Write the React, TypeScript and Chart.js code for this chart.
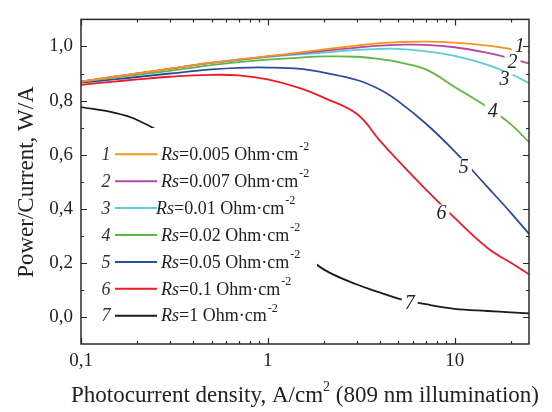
import React, { useEffect, useRef } from "react";
import { Chart, registerables } from "chart.js";

Chart.register(...registerables);

// ---- data ----
const xValues = [0.1, 0.15, 0.2, 0.3, 0.5, 0.7, 1, 1.5, 2, 3, 4, 5, 7, 10, 15, 20, 25];
const rs0005 = [0.870, 0.888, 0.900, 0.918, 0.940, 0.952, 0.964, 0.978, 0.989, 1.003, 1.012, 1.016, 1.018, 1.014, 1.003, 0.990, 0.978];
const rs0007 = [0.870, 0.888, 0.900, 0.918, 0.940, 0.951, 0.963, 0.975, 0.984, 0.996, 1.003, 1.006, 1.006, 0.997, 0.976, 0.956, 0.937];
const rs001 = [0.870, 0.888, 0.900, 0.917, 0.938, 0.949, 0.961, 0.971, 0.977, 0.987, 0.991, 0.991, 0.982, 0.965, 0.932, 0.898, 0.864];
const rs002 = [0.870, 0.885, 0.895, 0.910, 0.931, 0.942, 0.951, 0.959, 0.963, 0.962, 0.953, 0.942, 0.915, 0.850, 0.775, 0.712, 0.646];
const rs005 = [0.866, 0.878, 0.887, 0.900, 0.915, 0.921, 0.922, 0.917, 0.903, 0.876, 0.840, 0.797, 0.715, 0.612, 0.480, 0.385, 0.307];
const rs01 = [0.858, 0.870, 0.878, 0.888, 0.895, 0.893, 0.878, 0.845, 0.810, 0.750, 0.650, 0.577, 0.472, 0.366, 0.255, 0.200, 0.158];
const rs1 = [0.776, 0.755, 0.728, 0.660, 0.530, 0.450, 0.360, 0.245, 0.175, 0.120, 0.090, 0.068, 0.047, 0.030, 0.022, 0.017, 0.013];

const seriesValues = [rs0005, rs0007, rs001, rs002, rs005, rs01, rs1];
const rsLabels = ["0.005", "0.007", "0.01", "0.02", "0.05", "0.1", "1"];
const curveNumbers = ["1", "2", "3", "4", "5", "6", "7"];
const colors = ["#f7941d", "#b5489f", "#5ccbdc", "#5fb646", "#2c4c9c", "#ec1c24", "#1a1a1a"];

// curve number labels (data coordinates)
const labelX = [22.3, 20.4, 18.5, 16.0, 11.2, 8.5, 5.75];
const labelY = [1.004, 0.943, 0.879, 0.761, 0.557, 0.386, 0.054];

const yMajor = [0, 0.2, 0.4, 0.6, 0.8, 1.0];
const yMinor = [0.1, 0.3, 0.5, 0.7, 0.9];
const xMajor = [0.1, 1, 10];
const xMinor = [0.2, 0.3, 0.4, 0.5, 0.6, 0.7, 0.8, 0.9, 2, 3, 4, 5, 6, 7, 8, 9, 20];

const FONT = "'Liberation Serif', 'Times New Roman', serif";
const AXIS_COLOR = "#2a2a2a";

const decor = {
  id: "decor",
  afterDatasetsDraw(chart: any) {
    const ctx: CanvasRenderingContext2D = chart.ctx;
    const { left, right, top, bottom } = chart.chartArea;
    const xs = chart.scales.x;
    const ys = chart.scales.y;
    ctx.save();

    // legend box (opaque)
    ctx.fillStyle = "#ffffff";
    ctx.fillRect(95, 128, 222, 204);
    const itemY0 = 154.3;
    const itemStep = 26.9;
    for (let i = 0; i < curveNumbers.length; i++) {
      const y = itemY0 + i * itemStep;
      ctx.fillStyle = "#333";
      ctx.font = `italic 18px ${FONT}`;
      ctx.textAlign = "center";
      ctx.textBaseline = "middle";
      ctx.fillText(curveNumbers[i], 106, y + 1);
      ctx.strokeStyle = colors[i];
      ctx.lineWidth = 2;
      ctx.beginPath();
      ctx.moveTo(115, y);
      ctx.lineTo(157, y);
      ctx.stroke();
      ctx.textAlign = "left";
      ctx.fillStyle = "#222";
      let tx = i === 2 ? 156 : 161;
      ctx.font = `italic 18px ${FONT}`;
      ctx.fillText("Rs", tx, y + 1);
      tx += ctx.measureText("Rs").width;
      ctx.font = `18px ${FONT}`;
      const body = `=${rsLabels[i]} Ohm\u00b7cm`;
      ctx.fillText(body, tx, y + 1);
      tx += ctx.measureText(body).width;
      ctx.font = `12px ${FONT}`;
      ctx.fillText("-2", tx + 1, y - 7);
    }

    // curve number labels
    ctx.font = `italic 20px ${FONT}`;
    ctx.textAlign = "center";
    ctx.textBaseline = "middle";
    for (let i = 0; i < curveNumbers.length; i++) {
      const px = xs.getPixelForValue(labelX[i]);
      const py = ys.getPixelForValue(labelY[i]);
      const w = ctx.measureText(curveNumbers[i]).width;
      ctx.fillStyle = "#ffffff";
      ctx.fillRect(px - w / 2 - 3, py - 8, w + 6, 16);
      ctx.fillStyle = "#222";
      ctx.fillText(curveNumbers[i], px, py + 1);
    }

    // frame
    ctx.strokeStyle = AXIS_COLOR;
    ctx.lineWidth = 1.5;
    ctx.strokeRect(left, top, right - left, bottom - top);

    // ticks (inward)
    ctx.lineWidth = 1.2;
    const tickY = (vals: number[], len: number) => {
      for (const v of vals) {
        const p = Math.round(ys.getPixelForValue(v)) + 0.5;
        ctx.beginPath();
        ctx.moveTo(left, p);
        ctx.lineTo(left + len, p);
        ctx.moveTo(right, p);
        ctx.lineTo(right - len, p);
        ctx.stroke();
      }
    };
    const tickX = (vals: number[], len: number) => {
      for (const v of vals) {
        const p = Math.round(xs.getPixelForValue(v)) + 0.5;
        ctx.beginPath();
        ctx.moveTo(p, bottom);
        ctx.lineTo(p, bottom - len);
        ctx.moveTo(p, top);
        ctx.lineTo(p, top + len);
        ctx.stroke();
      }
    };
    tickY(yMajor, 6);
    tickY(yMinor, 3);
    tickX(xMajor, 6);
    tickX(xMinor, 3);

    // x axis title with superscript
    ctx.fillStyle = "#222";
    ctx.textBaseline = "alphabetic";
    ctx.textAlign = "left";
    const p1 = "Photocurrent density, A/cm";
    const sup = "2";
    const p2 = " (809 nm illumination)";
    ctx.font = `23px ${FONT}`;
    const w1 = ctx.measureText(p1).width;
    const w3 = ctx.measureText(p2).width;
    ctx.font = `14px ${FONT}`;
    const w2 = ctx.measureText(sup).width;
    const total = w1 + w2 + w3;
    let sx = (left + right) / 2 - total / 2;
    const base = 402;
    ctx.font = `23px ${FONT}`;
    ctx.fillText(p1, sx, base);
    sx += w1;
    ctx.font = `14px ${FONT}`;
    ctx.fillText(sup, sx, base - 11);
    sx += w2;
    ctx.font = `23px ${FONT}`;
    ctx.fillText(p2, sx, base);

    // y axis title
    ctx.save();
    ctx.translate(27, 182);
    ctx.rotate(-Math.PI / 2);
    ctx.textAlign = "center";
    ctx.textBaseline = "middle";
    ctx.font = `23px ${FONT}`;
    ctx.fillText("Power/Current, W/A", 0, 0);
    ctx.restore();

    ctx.restore();
  },
};

export default function App() {
  const ref = useRef<HTMLCanvasElement | null>(null);
  useEffect(() => {
    if (!ref.current) return;
    const datasets = seriesValues.map((vals, i) => ({
      label: `Rs=${rsLabels[i]}`,
      data: xValues.map((x, j) => ({ x, y: vals[j] })),
      borderColor: colors[i],
      backgroundColor: colors[i],
      borderWidth: 1.8,
      pointRadius: 0,
      tension: 0.4,
      fill: false,
    }));
    const chart = new Chart(ref.current, {
      type: "line",
      data: { datasets },
      plugins: [decor],
      options: {
        animation: false,
        responsive: false,
        maintainAspectRatio: false,
        devicePixelRatio: 1,
        layout: { padding: { left: 0, right: 23, top: 7, bottom: 0 } },
        plugins: { legend: { display: false }, tooltip: { enabled: false } },
        scales: {
          x: {
            type: "logarithmic",
            min: 0.1,
            max: 25,
            grid: { display: false, drawTicks: false },
            border: { display: false },
            afterBuildTicks: (s: any) => {
              s.ticks = xMajor.map((v) => ({ value: v }));
            },
            afterFit: (s: any) => {
              s.height = 68;
            },
            ticks: {
              autoSkip: false,
              maxRotation: 0,
              padding: 6,
              color: "#222",
              font: { family: FONT, size: 19 },
              callback: (v: any) => String(v).replace(".", ","),
            },
          },
          y: {
            type: "linear",
            min: -0.1,
            max: 1.1,
            grid: { display: false, drawTicks: false },
            border: { display: false },
            afterBuildTicks: (s: any) => {
              s.ticks = yMajor.map((v) => ({ value: v }));
            },
            afterFit: (s: any) => {
              s.width = 81;
            },
            ticks: {
              padding: 8,
              color: "#222",
              font: { family: FONT, size: 19 },
              callback: (v: any) => Number(v).toFixed(1).replace(".", ","),
            },
          },
        },
      },
    });
    return () => chart.destroy();
  }, []);
  return (
    <div style={{ position: "fixed", left: 0, top: 0, width: 552, height: 412, background: "#fff" }}>
      <canvas ref={ref} width={552} height={412} style={{ width: 552, height: 412, display: "block" }} />
    </div>
  );
}
